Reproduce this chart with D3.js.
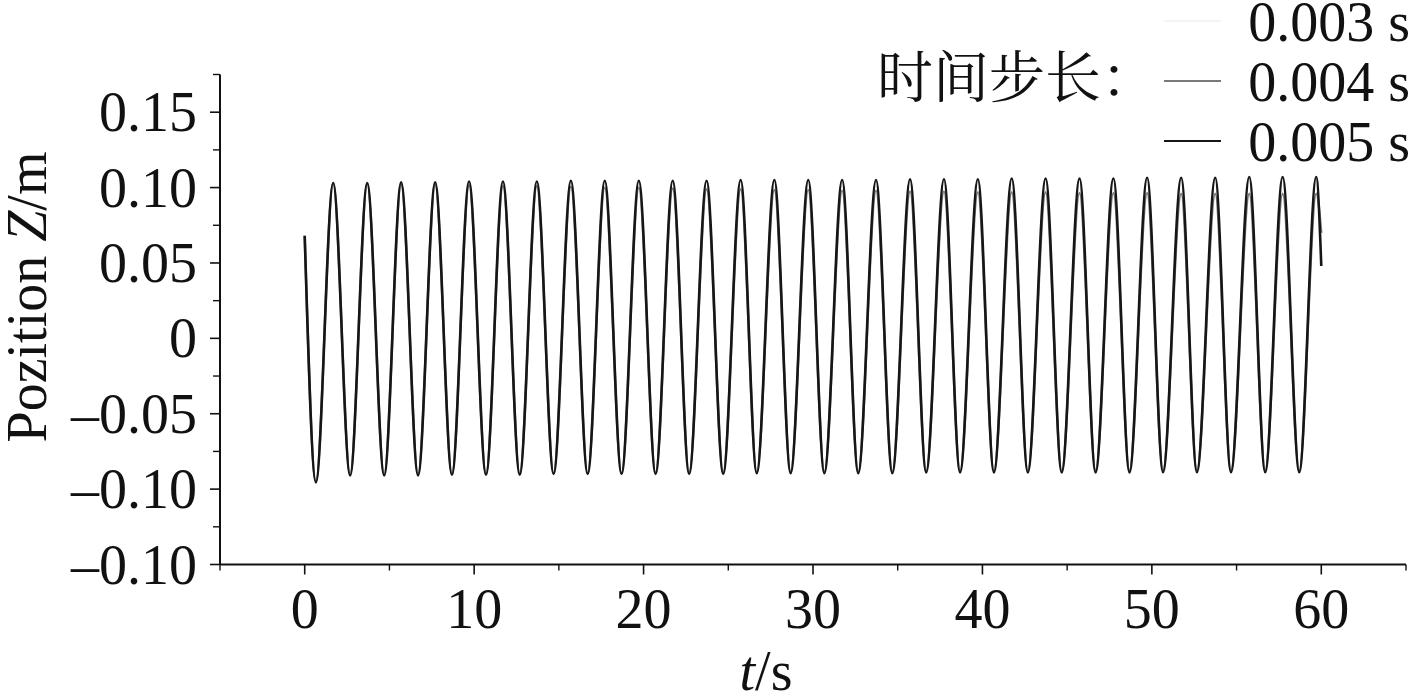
<!DOCTYPE html>
<html>
<head>
<meta charset="utf-8">
<script src="https://cdn.jsdelivr.net/npm/d3@7"></script>
<style>
  html, body { margin: 0; padding: 0; background: #fff; }
  svg { display: block; }
  text { font-family: "Liberation Serif", "Times New Roman", serif; fill: #111; }
</style>
</head>
<body>
<svg id="chart" width="1417" height="694"></svg>
<script>
// ---------- data ----------
const xTicks = [0, 10, 20, 30, 40, 50, 60];
const xMinorTicks = [-5, 5, 15, 25, 35, 45, 55, 65];
const yTicks = [-0.15, -0.10, -0.05, 0, 0.05, 0.10, 0.15];
const yTickLabels = ["\u20130.10", "\u20130.10", "\u20130.05", "0", "0.05", "0.10", "0.15"];
const yMinorTicks = [-0.125, -0.075, -0.025, 0.025, 0.075, 0.125, 0.175];

const seriesNames = ["0.003 s", "0.004 s", "0.005 s"];
const seriesColors = ["#f4f4f4", "#7a7a7a", "#161616"];

// time of each local extremum (s)
const troughTimes = [0.66, 2.68, 4.69, 6.69, 8.69, 10.70, 12.69, 14.69, 16.70, 18.70,
  20.71, 22.69, 24.70, 26.68, 28.68, 30.67, 32.67, 34.68, 36.68, 38.68,
  40.68, 42.68, 44.68, 46.68, 48.68, 50.66, 52.66, 54.67, 56.69, 58.70];
const peakTimes = [1.68, 3.69, 5.69, 7.70, 9.70, 11.70, 13.70, 15.71, 17.71, 19.72,
  21.72, 23.72, 25.73, 27.72, 29.72, 31.72, 33.72, 35.73, 37.73, 39.73,
  41.73, 43.73, 45.73, 47.73, 49.72, 51.73, 53.74, 55.75, 57.72, 59.70];

// start / end values (m)
const startZ = [0.068, 0.068, 0.068];
const endZ = [0.060, 0.070, 0.048];

// peak values (m)
const peak003 = [0.103, 0.103, 0.103, 0.1035, 0.1035, 0.1035, 0.104, 0.104, 0.104, 0.104,
  0.1045, 0.1045, 0.1045, 0.1045, 0.105, 0.105, 0.105, 0.105, 0.105, 0.1055,
  0.1055, 0.1055, 0.1055, 0.106, 0.106, 0.106, 0.106, 0.1065, 0.1065, 0.1065];
const peak004 = [0.103, 0.1025, 0.102, 0.102, 0.1015, 0.101, 0.101, 0.1005, 0.100, 0.100,
  0.0995, 0.099, 0.099, 0.0985, 0.0985, 0.098, 0.098, 0.0975, 0.0975, 0.097,
  0.097, 0.097, 0.0965, 0.0965, 0.0965, 0.096, 0.096, 0.096, 0.096, 0.096];
const peak005 = [0.103, 0.103, 0.1035, 0.1035, 0.104, 0.104, 0.104, 0.1045, 0.1045, 0.1045,
  0.1045, 0.1045, 0.105, 0.105, 0.105, 0.105, 0.105, 0.1055, 0.1055, 0.1055,
  0.106, 0.106, 0.106, 0.106, 0.1065, 0.1065, 0.1065, 0.107, 0.107, 0.107];

// trough values (m)
const trough003 = [-0.0955, -0.091, -0.091, -0.0905, -0.0905, -0.0905, -0.090, -0.090, -0.090, -0.090,
  -0.090, -0.090, -0.0895, -0.0895, -0.0895, -0.0895, -0.0895, -0.089, -0.089, -0.089,
  -0.089, -0.089, -0.089, -0.089, -0.0888, -0.0888, -0.0888, -0.0888, -0.0888, -0.0888];
const trough004 = [-0.095, -0.0905, -0.0905, -0.090, -0.090, -0.090, -0.0895, -0.0895, -0.0895, -0.0895,
  -0.089, -0.089, -0.089, -0.089, -0.0885, -0.0885, -0.0885, -0.0885, -0.088, -0.088,
  -0.088, -0.088, -0.088, -0.0875, -0.0875, -0.0875, -0.0875, -0.0875, -0.0875, -0.0875];
const trough005 = [-0.0955, -0.091, -0.091, -0.091, -0.0905, -0.0905, -0.0905, -0.090, -0.090, -0.090,
  -0.090, -0.090, -0.090, -0.0895, -0.0895, -0.0895, -0.0895, -0.0895, -0.089, -0.089,
  -0.089, -0.089, -0.089, -0.089, -0.089, -0.0888, -0.0888, -0.0888, -0.0888, -0.0888];

const peaks = [peak003, peak004, peak005];
const troughs = [trough003, trough004, trough005];

// ---------- layout ----------
const svg = d3.select("#chart");
const x = d3.scaleLinear().domain([-5, 65]).range([220, 1406]);
const y = d3.scaleLinear().domain([-0.15, 0.175]).range([564.5, 74.5]);
const FONT = 56;

function buildSeries(i) {
  const pts = [{t: 0, z: startZ[i]}];
  troughTimes.forEach((t, k) => pts.push({t, z: troughs[i][k]}));
  peakTimes.forEach((t, k) => pts.push({t, z: peaks[i][k]}));
  pts.push({t: 60, z: endZ[i]});
  pts.sort((a, b) => a.t - b.t);
  return pts;
}

const line = d3.line()
  .x(d => x(d.t))
  .y(d => y(d.z))
  .curve(d3.curveMonotoneX);

const widths = [1.4, 2.4, 2.6];
[0, 1, 2].forEach(i => {
  svg.append("path")
    .datum(buildSeries(i))
    .attr("d", line)
    .attr("fill", "none")
    .attr("stroke", seriesColors[i])
    .attr("stroke-width", widths[i])
    .attr("stroke-linejoin", "round");
});

// ---------- axes ----------
const axisColor = "#111";
const gx = svg.append("g");
gx.append("line").attr("x1", x(-5)).attr("x2", x(65)).attr("y1", y(-0.15)).attr("y2", y(-0.15))
  .attr("stroke", axisColor).attr("stroke-width", 2);
gx.selectAll("line.maj").data(xTicks).enter().append("line")
  .attr("x1", d => x(d)).attr("x2", d => x(d))
  .attr("y1", y(-0.15)).attr("y2", y(-0.15) + 10)
  .attr("stroke", axisColor).attr("stroke-width", 1.6);
gx.selectAll("line.min").data(xMinorTicks).enter().append("line")
  .attr("x1", d => x(d)).attr("x2", d => x(d))
  .attr("y1", y(-0.15)).attr("y2", y(-0.15) + 6)
  .attr("stroke", axisColor).attr("stroke-width", 1.4);
gx.selectAll("text").data(xTicks).enter().append("text")
  .attr("x", d => x(d)).attr("y", 628)
  .attr("text-anchor", "middle")
  .attr("font-size", FONT)
  .text(d => d);

const gy = svg.append("g");
gy.append("line").attr("x1", x(-5)).attr("x2", x(-5)).attr("y1", y(0.175)).attr("y2", y(-0.15))
  .attr("stroke", axisColor).attr("stroke-width", 2);
gy.selectAll("line.maj").data(yTicks).enter().append("line")
  .attr("x1", x(-5) - 10).attr("x2", x(-5))
  .attr("y1", d => y(d)).attr("y2", d => y(d))
  .attr("stroke", axisColor).attr("stroke-width", 1.6);
gy.selectAll("line.min").data(yMinorTicks).enter().append("line")
  .attr("x1", x(-5) - 7).attr("x2", x(-5))
  .attr("y1", d => y(d)).attr("y2", d => y(d))
  .attr("stroke", axisColor).attr("stroke-width", 1.4);
gy.selectAll("text").data(yTicks).enter().append("text")
  .attr("x", 197).attr("y", d => y(d))
  .attr("dy", "0.34em")
  .attr("text-anchor", "end")
  .attr("font-size", FONT)
  .text((d, i) => yTickLabels[i]);

// axis titles
const yl = svg.append("text")
  .attr("transform", "translate(46,297) rotate(-90)")
  .attr("text-anchor", "middle")
  .attr("font-size", FONT);
yl.append("tspan").text("Pozition ");
yl.append("tspan").attr("font-style", "italic").text("Z");
yl.append("tspan").text("/m");

const xl = svg.append("text")
  .attr("x", 766).attr("y", 690)
  .attr("text-anchor", "middle")
  .attr("font-size", FONT);
xl.append("tspan").attr("font-style", "italic").text("t");
xl.append("tspan").text("/s");

// ---------- legend ----------
const legendBase = [41, 101, 161];
svg.append("text")
  .attr("x", 877).attr("y", 97)
  .attr("font-size", FONT)
  .style("font-family", "'Noto Serif CJK SC', 'Noto Sans CJK SC', serif")
  .text("时间步长：");
seriesNames.forEach((name, i) => {
  svg.append("line")
    .attr("x1", 1164).attr("x2", 1221)
    .attr("y1", legendBase[i] - 20).attr("y2", legendBase[i] - 20)
    .attr("stroke", seriesColors[i]).attr("stroke-width", 2);
  svg.append("text")
    .attr("x", 1410).attr("y", legendBase[i])
    .attr("text-anchor", "end")
    .attr("font-size", FONT)
    .text(name);
});
</script>
</body>
</html>
